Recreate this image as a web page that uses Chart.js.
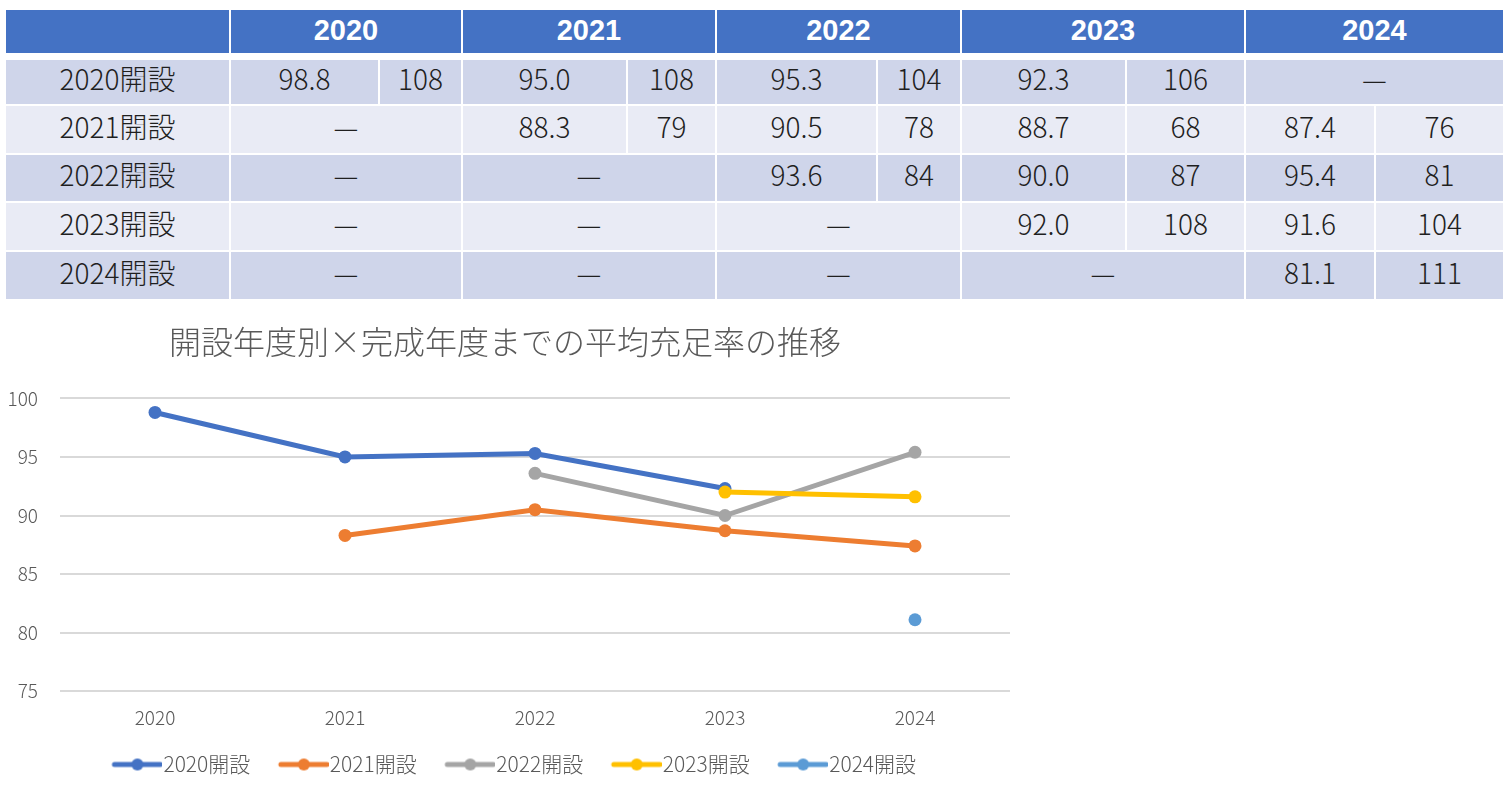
<!DOCTYPE html>
<html lang="ja">
<head>
<meta charset="utf-8">
<title>開設年度別×完成年度までの平均充足率の推移</title>
<script src="https://cdn.jsdelivr.net/npm/chart.js@4.4.1/dist/chart.umd.min.js"></script>
<style>
  html, body { margin: 0; padding: 0; background: #fff; width: 1508px; height: 794px; overflow: hidden; }
  #tabla {
    position: absolute; left: 6px; top: 10px;
    display: grid;
    grid-template-columns: 223px 147px 81px 163px 87px 159px 82px 163px 117px 128px 127px;
    grid-template-rows: 43px 3px 44px 47px 46px 47px 47px;
    gap: 2px;
    font-family: "Noto Sans CJK JP", sans-serif;
  }
  .celda {
    display: flex; align-items: center; justify-content: center;
    font-size: 28px; font-weight: 300; color: #1f1f1f; padding-bottom: 8px; box-sizing: border-box;
  }
  .cab { background: #4472C4; color: #fff; font-family: "Liberation Sans", sans-serif; font-weight: bold; font-size: 29px; padding-bottom: 2px; }
  .impar { background: #CFD5EA; }
  .par { background: #E9EBF5; }
  #grafico { position: absolute; left: 0; top: 310px; }
</style>
</head>
<body>
<div id="tabla"></div>
<canvas id="grafico" width="1030" height="475"></canvas>
<script>
// Datos: años de cálculo y cohortes por año de apertura
const anios = ["2020", "2021", "2022", "2023", "2024"];
const cohortes = ["2020開設", "2021開設", "2022開設", "2023開設", "2024開設"];

// Tasa media de cobertura (%)
const tasa2020 = [98.8, 95.0, 95.3, 92.3, null];
const tasa2021 = [null, 88.3, 90.5, 88.7, 87.4];
const tasa2022 = [null, null, 93.6, 90.0, 95.4];
const tasa2023 = [null, null, null, 92.0, 91.6];
const tasa2024 = [null, null, null, null, 81.1];

// Número de centros (segunda columna de la tabla)
const num2020 = [108, 108, 104, 106, null];
const num2021 = [null, 79, 78, 68, 76];
const num2022 = [null, null, 84, 87, 81];
const num2023 = [null, null, null, 108, 104];
const num2024 = [null, null, null, null, 111];

const ticksY = [75, 80, 85, 90, 95, 100];

const colores = ["#4472C4", "#ED7D31", "#A5A5A5", "#FFC000", "#5B9BD5"];
const tasas = [tasa2020, tasa2021, tasa2022, tasa2023, tasa2024];
const nums = [num2020, num2021, num2022, num2023, num2024];

// Construir la tabla
function crearTabla() {
  const tabla = document.getElementById("tabla");
  const add = (texto, clase, fila, col, span) => {
    const d = document.createElement("div");
    d.className = "celda " + clase;
    d.textContent = texto;
    d.style.gridRow = String(fila);
    d.style.gridColumn = col + " / span " + (span || 1);
    tabla.appendChild(d);
  };
  add("", "cab", 1, 1);
  anios.forEach((a, j) => add(a, "cab", 1, 2 + j * 2, 2));
  cohortes.forEach((c, i) => {
    const fila = 3 + i;
    const clase = i % 2 === 0 ? "impar" : "par";
    add(c, clase, fila, 1);
    anios.forEach((a, j) => {
      const v = tasas[i][j];
      if (v === null) {
        add("—", clase, fila, 2 + j * 2, 2);
      } else {
        add(v.toFixed(1), clase, fila, 2 + j * 2);
        add(String(nums[i][j]), clase, fila, 3 + j * 2);
      }
    });
  });
}

// Icono de leyenda: línea con círculo (con margen transparente a la izquierda)
function iconoLeyenda(color) {
  const c = document.createElement("canvas");
  c.width = 78; c.height = 14;
  const g = c.getContext("2d");
  g.strokeStyle = color;
  g.lineWidth = 5;
  g.lineCap = "round";
  g.beginPath();
  g.moveTo(30, 7); g.lineTo(76, 7);
  g.stroke();
  g.fillStyle = color;
  g.beginPath();
  g.arc(53, 7, 6, 0, Math.PI * 2);
  g.fill();
  return c;
}

function crearGrafico() {
  const ctx = document.getElementById("grafico");
  const datasets = cohortes.map((c, i) => ({
    label: c,
    data: tasas[i],
    borderColor: colores[i],
    backgroundColor: colores[i],
    borderWidth: 5,
    pointRadius: 6.5,
    pointHoverRadius: 6.5,
    pointBorderWidth: 0,
    pointStyle: "circle",
    spanGaps: false,
    order: 4 - i,
  }));

  new Chart(ctx, {
    type: "line",
    data: { labels: anios, datasets: datasets },
    options: {
      responsive: false,
      animation: false,
      layout: { padding: { left: 0, right: 20, top: 0, bottom: 0 } },
      plugins: {
        title: {
          display: true,
          text: "開設年度別×完成年度までの平均充足率の推移",
          color: "#595959",
          font: { family: "'Noto Sans CJK JP'", size: 32, weight: 300 },
          padding: { top: 13, bottom: 37 },
        },
        legend: {
          position: "bottom",
          labels: {
            usePointStyle: true,
            pointStyleWidth: 59,
            padding: 10,
            color: "#595959",
            font: { family: "'Noto Sans CJK JP'", size: 21, weight: 300 },
            sort: (a, b) => a.datasetIndex - b.datasetIndex,
            generateLabels: (chart) => chart.data.datasets.map((ds, i) => ({
              text: ds.label,
              fillStyle: ds.borderColor,
              strokeStyle: ds.borderColor,
              pointStyle: iconoLeyenda(ds.borderColor),
              lineWidth: 0,
              datasetIndex: i,
              fontColor: "#595959",
            })),
          },
        },
        tooltip: { enabled: false },
      },
      scales: {
        x: {
          offset: true,
          grid: { display: false, drawTicks: false },
          border: { display: false },
          ticks: {
            color: "#595959",
            padding: 15,
            font: { family: "'Noto Sans CJK JP'", size: 19, weight: 300 },
          },
        },
        y: {
          min: ticksY[0],
          max: ticksY[ticksY.length - 1],
          afterFit: (scale) => { scale.width = 60; },
          afterBuildTicks: (scale) => { scale.ticks = ticksY.map(v => ({ value: v })); },
          grid: { color: "#D9D9D9", lineWidth: 2, drawTicks: false },
          border: { display: false },
          ticks: {
            color: "#595959",
            padding: 22,
            font: { family: "'Noto Sans CJK JP'", size: 19, weight: 300 },
          },
        },
      },
    },
  });
}

document.addEventListener("DOMContentLoaded", () => {
  crearTabla();
  crearGrafico();
});
</script>
</body>
</html>
